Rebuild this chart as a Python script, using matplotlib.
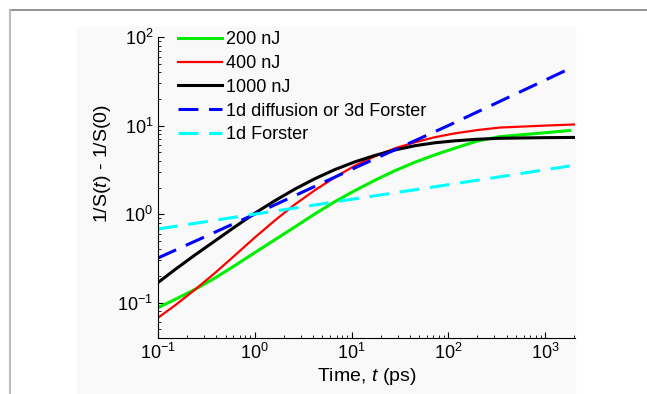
import matplotlib
matplotlib.use("Agg")
import matplotlib.pyplot as plt
from matplotlib.patches import Rectangle
from matplotlib.lines import Line2D

plt.rcParams['font.family'] = ['Liberation Sans', 'DejaVu Sans']
plt.rcParams['mathtext.fontset'] = 'custom'
plt.rcParams['mathtext.it'] = 'Liberation Sans:italic'
plt.rcParams['mathtext.rm'] = 'Liberation Sans'
plt.rcParams['axes.unicode_minus'] = False

# valores
t_200 = [0.1, 0.15, 0.24, 0.39, 0.62, 1.0, 1.6, 2.6, 4.2, 6.7, 10.8, 17.4, 28, 45, 73, 117,
         200, 341, 1000, 1800]
y_200 = [0.088, 0.109, 0.141, 0.191, 0.262, 0.368, 0.511, 0.718, 1.01, 1.38, 1.84, 2.41, 3.09,
         3.85, 4.68, 5.56, 6.7, 7.5, 8.3, 8.8]

t_400 = [0.1, 0.15, 0.24, 0.39, 0.62, 1.0, 1.6, 2.6, 4.2, 6.7, 10.8, 17.4, 28, 45, 73, 117,
         200, 341, 1000, 2040]
y_400 = [0.0676, 0.0935, 0.140, 0.218, 0.341, 0.545, 0.843, 1.29, 1.87, 2.60, 3.52, 4.50, 5.53,
         6.47, 7.40, 8.17, 8.9, 9.5, 10.0, 10.3]

t_1000 = [0.1, 0.15, 0.24, 0.39, 0.62, 1.0, 1.6, 2.6, 4.2, 6.7, 10.8, 17.4, 28, 45, 73, 117,
          200, 341, 1000, 2040]
y_1000 = [0.169, 0.237, 0.345, 0.501, 0.716, 1.023, 1.41, 1.92, 2.52, 3.18, 3.89, 4.60, 5.30,
          5.92, 6.40, 6.73, 7.01, 7.19, 7.31, 7.35]

t_dif = [0.1, 1, 10, 100, 1800]
y_dif = [0.32, 1.0, 3.2, 10, 44]

t_for = [0.1, 1, 10, 100, 1800]
y_for = [0.68, 1.0, 1.47, 2.15, 3.5]

fig = plt.figure(figsize=(6.47, 3.94), dpi=100)
W, H = 647, 394

# moldura e painel de fundo
fig.patches.append(Rectangle((77 / W, 0), (575 - 77) / W, (394 - 27) / H,
                             transform=fig.transFigure, color='#f9f9f9', zorder=-5))
fig.add_artist(Line2D([10 / W, 1], [1 - 10 / H, 1 - 10 / H], transform=fig.transFigure,
                      color='#808080', lw=1.2))
fig.add_artist(Line2D([10 / W, 10 / W], [0, 1 - 10 / H], transform=fig.transFigure,
                      color='#bbbbbb', lw=1.5))

ax = fig.add_axes([158 / W, 1 - 338 / H, (575 - 158) / W, (338 - 37) / H])
ax.set_facecolor('none')
ax.set_zorder(2)

ax.plot(t_200, y_200, color='#00ee00', lw=2.2, label='200 nJ')
ax.plot(t_400, y_400, color='#ff0000', lw=1.6, label='400 nJ')
ax.plot(t_1000, y_1000, color='black', lw=2.2, label='1000 nJ')
ax.plot(t_dif, y_dif, color='#0000ff', lw=2.2, dashes=(6.5, 3.5), label='1d diffusion or 3d Forster')
ax.plot(t_for, y_for, color='#00ffff', lw=2.2, dashes=(6.5, 3.5), label='1d Forster')

ax.set_xscale('log')
ax.set_yscale('log')
ax.set_xlim(0.1, 2040)
ax.set_ylim(0.04, 100)

for s in ['top', 'right']:
    ax.spines[s].set_visible(False)
ax.tick_params(which='both', direction='in', labelsize=13)
ax.tick_params(which='major', length=4)
ax.tick_params(which='minor', length=2.5)
ax.set_xticks([0.1, 1, 10, 100, 1000])
ax.set_yticks([0.1, 1, 10, 100])

ax.set_xlabel('Time, $t$ (ps)', fontsize=14, labelpad=2)
ax.set_ylabel('1/S($t$) - 1/S(0)', fontsize=14)
ax.yaxis.set_label_coords(-0.108, 0.58)

ax.legend(loc='upper left', bbox_to_anchor=(0.048, 1.02), frameon=False, fontsize=13,
          handlelength=2.45, handletextpad=0.2, labelspacing=0.38, borderaxespad=0,
          borderpad=0)

fig.savefig('out.png', dpi=100)
